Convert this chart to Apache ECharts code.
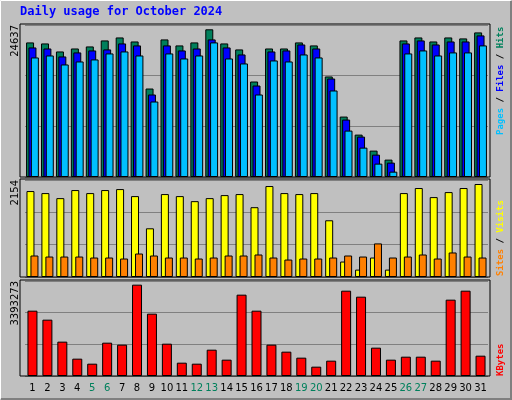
<!DOCTYPE html>
<html>
<head>
<meta charset="utf-8">
<script src="https://cdn.jsdelivr.net/npm/echarts@6/dist/echarts.min.js"></script>
<style>
  html, body { margin: 0; padding: 0; background: #c0c0c0; }
  #chart { width: 512px; height: 400px; }
</style>
</head>
<body>
<div id="chart"></div>
<script>
var days = ['1','2','3','4','5','6','7','8','9','10','11','12','13','14','15','16',
	'17','18','19','20','21','22','23','24','25','26','27','28','29','30','31'];
var weekendDays = ['5','6','12','13','19','20','26','27'];

var hits = [22450,22280,20940,21440,21780,22780,23280,22610,14760,22950,21950,22450,24637,22280,21280,15930,
	21440,21440,22450,21950,16770,10080,7070,4400,2900,22780,23280,22610,23280,23120,24120];
var files = [21610,21440,20110,20780,21110,21280,22280,21950,13760,21950,21110,21440,22950,21610,20440,15260,
	20940,21110,22110,21440,16430,9580,6740,3730,2400,22280,22780,22110,22610,22610,23620];
var pages = [19940,20270,18770,19270,19610,20610,20940,20270,12590,20610,19770,20270,22450,19770,18940,13760,
	19440,19270,20440,19940,14430,7740,4900,2230,890,20610,21110,20270,20780,20780,21950];

var visits = [1991,1944,1827,2014,1944,2014,2037,1874,1128,1921,1874,1757,1827,1897,1921,1617,
	2107,1944,1921,1944,1314,358,171,451,171,1944,2061,1851,1967,2061,2154];
var sites = [498,474,474,474,451,451,428,544,498,451,451,428,451,498,498,521,
	451,404,428,428,451,498,474,778,451,474,521,428,568,474,451];

var kbytes = [2427000,2093000,1276000,644000,458000,1238000,1164000,3393273,2316000,1201000,495000,458000,978000,607000,3022000,2427000,
	1164000,904000,681000,347000,570000,3170000,2947000,1053000,607000,718000,718000,570000,2836000,3170000,755000];

var maxLabels = ['24637', '2154', '3393273'];
var axisMax = [25355, 2247, 3529500];

var chart = echarts.init(document.getElementById('chart'));

var grids = [
	{left: 25, width: 463, top: 25, height: 152},
	{left: 25, width: 463, top: 180, height: 97},
	{left: 25, width: 463, top: 281, height: 95}
];

function yAxis(i) {
	return {
		gridIndex: i, type: 'value', min: 0, max: axisMax[i], interval: axisMax[i] / 3,
		axisLine: {show: false}, axisTick: {show: false},
		splitLine: {lineStyle: {color: '#808080', width: 1}},
		axisLabel: {
			rotate: 90, align: 'right', verticalAlign: 'middle', margin: 10,
			fontFamily: 'DejaVu Sans', fontSize: 10, color: '#000',
			formatter: function(v) { return v >= axisMax[i] - 1 ? maxLabels[i] : ''; }
		}
	};
}

function xAxis(i, show) {
	return {
		gridIndex: i, type: 'category', data: days,
		axisLine: {show: false}, axisTick: {show: false},
		axisLabel: {
			show: show, interval: 0, margin: 7,
			fontFamily: 'DejaVu Sans', fontSize: 10,
			color: function(v) { return weekendDays.indexOf(v) >= 0 ? '#00805c' : '#000'; }
		}
	};
}

function bar(name, data, color, i, width, gap) {
	return {
		name: name, type: 'bar', xAxisIndex: i, yAxisIndex: i, data: data,
		barWidth: width, barGap: gap, animation: false,
		itemStyle: {color: color, borderColor: '#000', borderWidth: 1}
	};
}

function panelFrame(g) {
	return [
		{type: 'rect', shape: {x: 20, y: g.top - 1, width: 470, height: g.height + 1},
			style: {fill: 'none', stroke: '#000', lineWidth: 1}, z: 10}
	];
}

function sideLabel(y, text, rich) {
	return {type: 'text', x: 501, y: y, rotation: Math.PI / 2,
		style: {text: text, font: 'bold 9px "DejaVu Sans Mono"', fill: '#000',
			textAlign: 'left', textVerticalAlign: 'middle', rich: rich}};
}

var frames = [].concat(panelFrame(grids[0]), panelFrame(grids[1]), panelFrame(grids[2]));

chart.setOption({
	backgroundColor: '#c0c0c0',
	animation: false,
	grid: grids,
	xAxis: [xAxis(0, false), xAxis(1, false), xAxis(2, true)],
	yAxis: [yAxis(0), yAxis(1), yAxis(2)],
	series: [
		bar('Hits', hits, '#00805c', 0, 8, '-70%'),
		bar('Files', files, '#0000ff', 0, 8, '-70%'),
		bar('Pages', pages, '#00c0ff', 0, 8, '-70%'),
		bar('Visits', visits, '#ffff00', 1, 8, '-50%'),
		bar('Sites', sites, '#ff8000', 1, 8, '-50%'),
		bar('KBytes', kbytes, '#ff0000', 2, 10, '0%')
	],
	graphic: frames.concat([
		{type: 'rect', shape: {x: 0.5, y: 0.5, width: 510, height: 398},
			style: {fill: 'none', stroke: '#ffffff', lineWidth: 1}},
		{type: 'polyline', shape: {points: [[511, 1], [511, 399], [1, 399]]},
			style: {fill: 'none', stroke: '#808080', lineWidth: 2}},
		{type: 'text', left: 20, top: 6,
			style: {text: 'Daily usage for October 2024', fill: '#0000ff',
				font: 'bold 12px "DejaVu Sans Mono"'}},
		sideLabel(135, '{p|Pages}{s| / }{f|Files}{s| / }{h|Hits}',
			{p: {fill: '#00c0ff'}, f: {fill: '#0000ff'}, h: {fill: '#00805c'}, s: {fill: '#000'}}),
		sideLabel(276, '{a|Sites}{s| / }{b|Visits}',
			{a: {fill: '#ff8000'}, b: {fill: '#ffff00'}, s: {fill: '#000'}}),
		sideLabel(376, '{k|KBytes}', {k: {fill: '#ff0000'}})
	])
});
</script>
</body>
</html>
